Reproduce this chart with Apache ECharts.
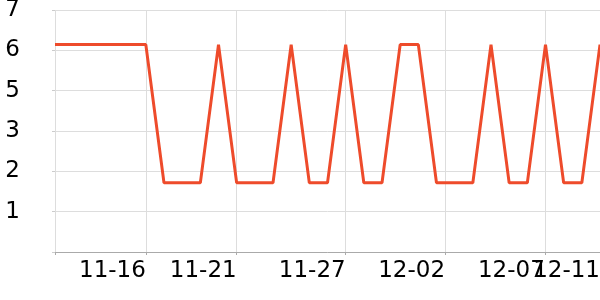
<!DOCTYPE html>
<html>
<head>
<meta charset="utf-8">
<script src="https://cdn.jsdelivr.net/npm/echarts@6/dist/echarts.min.js"></script>
<style>html,body{margin:0;padding:0;background:#fff}#c{width:600px;height:300px}</style>
</head>
<body>
<div id="c"></div>
<script>
const dates = ['11-11','11-12','11-13','11-14','11-15','11-16','11-17','11-18','11-19','11-20',
  '11-21','11-22','11-23','11-24','11-25','11-26','11-27','11-28','11-29','11-30',
  '12-01','12-02','12-03','12-04','12-05','12-06','12-07','12-08','12-09','12-10','12-11'];
const values = [6,6,6,6,6,6,2,2,2,6,2,2,2,6,2,2,6,2,2,6,6,2,2,2,6,2,2,6,2,2,6];
const xTickValues = [0, 5, 10, 16, 21.47, 26.96, 30];
const xTickLabels = ['', '11-16', '11-21', '11-27', '12-02', '12-07', '12-11'];
const yTickLabels = ['', '1', '2', '3', '5', '6', '7'];
const yMax = 7;
const yStep = yMax / 6;

const labelFmt = v => { const i = xTickValues.indexOf(v); return i >= 0 ? xTickLabels[i] : ''; };
const labelStyle = {align: 'right', margin: 8, hideOverlap: false,
  fontSize: 23, fontFamily: 'DejaVu Sans', color: '#000', formatter: labelFmt};
const xMax = dates.length - 1;

const chart = echarts.init(document.getElementById('c'), null, {renderer: 'canvas'});
chart.setOption({
  animation: false,
  grid: {left: 55, right: 0, top: 10, bottom: 48, containLabel: false, outerBoundsMode: 'none'},
  xAxis: [{
    type: 'value', min: 0, max: xMax, position: 'bottom',
    axisLine: {show: true, lineStyle: {color: '#aaaaaa', width: 1}},
    axisTick: {show: true, length: 3, customValues: xTickValues, lineStyle: {color: '#aaaaaa'}},
    splitLine: {show: true, lineStyle: {color: '#dddddd', width: 1}},
    axisLabel: Object.assign({customValues: xTickValues.slice(1, -1)}, labelStyle)
  }, {
    type: 'value', min: 0, max: xMax, position: 'bottom', offset: 0,
    axisLine: {show: false}, axisTick: {show: false}, splitLine: {show: false},
    axisLabel: Object.assign({customValues: xTickValues.slice(-1)}, labelStyle)
  }],
  yAxis: {
    type: 'value', min: 0, max: yMax, interval: yStep,
    axisLine: {show: false},
    axisTick: {show: true, length: 3, lineStyle: {color: '#cccccc'}},
    splitLine: {show: true, lineStyle: {color: '#dddddd', width: 1}},
    axisLabel: {
      margin: 35, fontSize: 23, fontFamily: 'DejaVu Sans', color: '#000',
      formatter: v => yTickLabels[Math.round(v / yStep)] || ''
    }
  },
  series: [{
    type: 'line',
    xAxisIndex: 0,
    data: values.map((v, i) => [i, v]),
    symbol: 'none',
    lineStyle: {color: '#ee4b2b', width: 3},
    itemStyle: {color: '#ee4b2b'}
  }]
});
</script>
</body>
</html>
